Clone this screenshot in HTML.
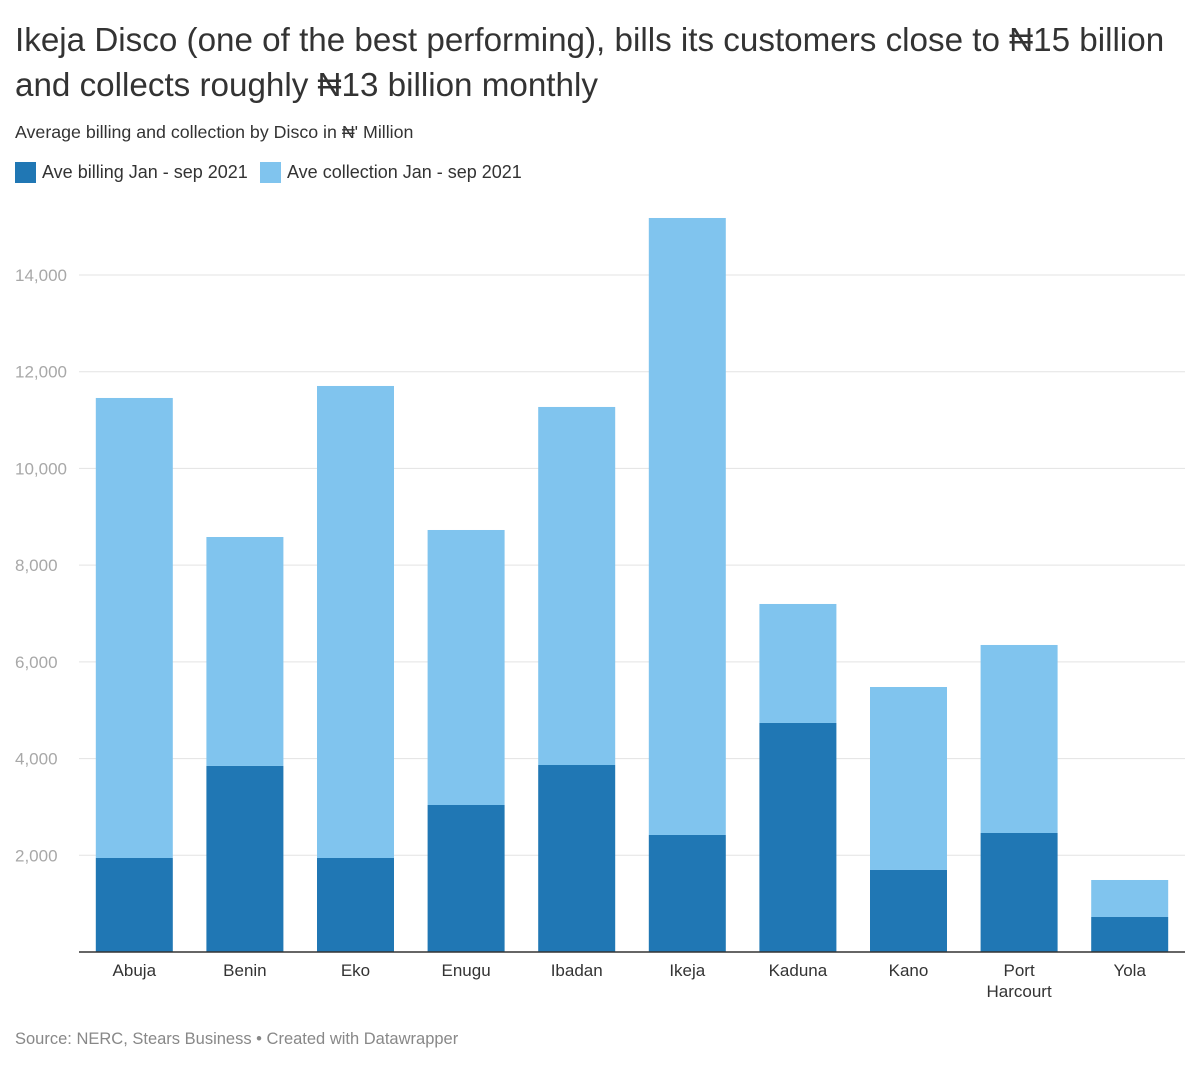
<!DOCTYPE html>
<html><head><meta charset="utf-8"><style>
body{margin:0;background:#fff;font-family:"Liberation Sans",sans-serif;color:#333;}
#wrap{position:relative;width:1200px;height:1065px;overflow:hidden;}
h1{position:absolute;left:15px;top:18px;margin:0;font-size:33.2px;font-weight:normal;line-height:45px;color:#333;width:1180px;}
.sub{position:absolute;left:15px;top:122px;font-size:17.8px;color:#333;}
.leg{position:absolute;top:162px;font-size:18px;display:flex;align-items:center;}
.sw{width:21px;height:21px;margin-right:6px;}
.src{position:absolute;left:15px;top:1030px;font-size:16.5px;color:#888;}
</style></head><body><div id="wrap">
<h1>Ikeja Disco (one of the best performing), bills its customers close to ₦15 billion and collects roughly ₦13 billion monthly</h1>
<div class="sub">Average billing and collection by Disco in ₦' Million</div>
<div class="leg" style="left:15px"><div class="sw" style="background:#2077b4"></div>Ave billing Jan - sep 2021</div>
<div class="leg" style="left:260px"><div class="sw" style="background:#80c4ee"></div>Ave collection Jan - sep 2021</div>
<svg id="svg" width="1200" height="1065" style="position:absolute;left:0;top:0"></svg>
<div class="src">Source: NERC, Stears Business • Created with Datawrapper</div>
</div>
<script>
const categories=["Abuja","Benin","Eko","Enugu","Ibadan","Ikeja","Kaduna","Kano","Port Harcourt","Yola"];
const billing=[1944,3847,1944,3040,3867,2420,4736,1696,2461,724];
const collection=[9513,4735,9761,5687,7404,12759,2461,3784,3888,765];
const yTicks=[2000,4000,6000,8000,10000,12000,14000];
const NS="http://www.w3.org/2000/svg";
const svg=document.getElementById('svg');
const x0=79,x1=1185,yBase=952,yTop=275,yTopVal=14000;
const y=v=>yBase-(v/yTopVal)*(yBase-yTop);
const band=(x1-x0)/categories.length,bw=77;
const cx=i=>x0+band*(i+0.5);
function mk(t,a){const e=document.createElementNS(NS,t);for(const k in a)e.setAttribute(k,a[k]);svg.appendChild(e);return e;}
yTicks.forEach(v=>{
  const l=mk('line',{x1:x0,x2:x1,y1:y(v),y2:y(v),stroke:'#e3e3e3','stroke-width':1});
  
  
  const t=mk('text',{x:15,y:y(v)+6,'font-size':17,fill:'#a8a8a8','font-family':'Liberation Sans, sans-serif'});
  t.textContent=v.toLocaleString('en-US');
  
  
});
categories.forEach((c,i)=>{
  const b=mk('rect',{x:cx(i)-bw/2,y:y(billing[i]),width:bw,height:yBase-y(billing[i]),fill:'#2077b4'});
  
  
  const tot=billing[i]+collection[i];
  const r=mk('rect',{x:cx(i)-bw/2,y:y(tot),width:bw,height:y(billing[i])-y(tot),fill:'#80c4ee'});
  
  
  const parts=c.split(' ');
  parts.forEach((p,j)=>{
    const t=mk('text',{x:cx(i),y:976+j*21,'font-size':17,fill:'#333','text-anchor':'middle','font-family':'Liberation Sans, sans-serif'});
    t.textContent=p;
    
    
  });
});
const ax=mk('line',{x1:x0,x2:x1,y1:yBase,y2:yBase,stroke:'#333','stroke-width':1.5});


</script></body></html>
